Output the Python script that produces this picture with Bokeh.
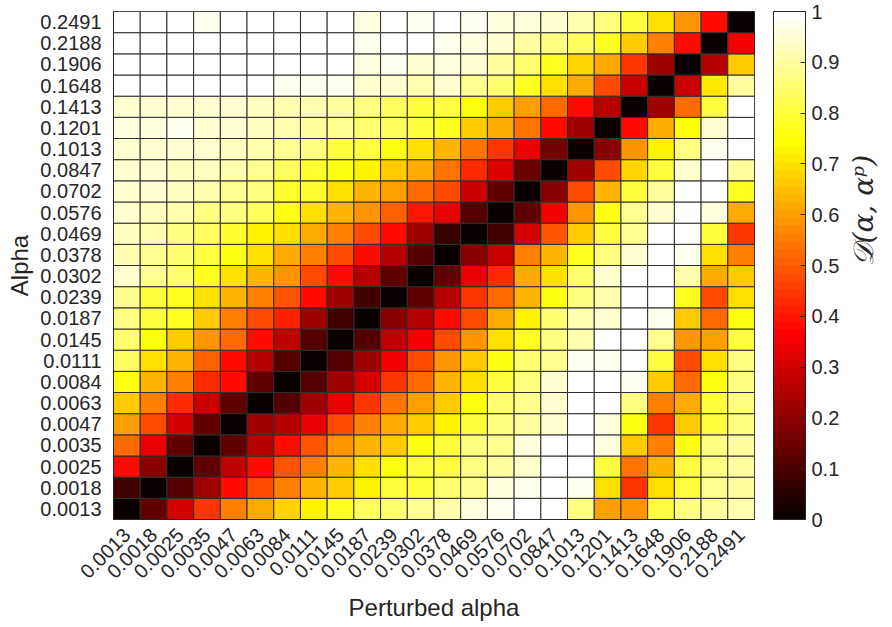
import numpy as np
from bokeh.plotting import figure
from bokeh.models import (ColumnDataSource, LinearColorMapper, ColorBar, FixedTicker,
                          BasicTickFormatter, FactorRange, CategoricalAxis)
from bokeh.embed import file_html
from bokeh.resources import INLINE

# ---------------- data ----------------
alpha_labels = ["0.0013", "0.0018", "0.0025", "0.0035", "0.0047", "0.0063", "0.0084", "0.0111",
                "0.0145", "0.0187", "0.0239", "0.0302", "0.0378", "0.0469", "0.0576", "0.0702",
                "0.0847", "0.1013", "0.1201", "0.1413", "0.1648", "0.1906", "0.2188", "0.2491"]

# one row per alpha (bottom to top); columns follow perturbed alpha (left to right)
d_0013 = [0.01, 0.14, 0.30, 0.44, 0.55, 0.62, 0.68, 0.73, 0.78, 0.83, 0.85, 0.89, 0.92, 0.96, 0.97, 1.00, 1.00, 0.86, 0.60, 0.58, 0.80, 0.87, 0.90, 0.92]
d_0018 = [0.09, 0.01, 0.11, 0.23, 0.375, 0.48, 0.55, 0.63, 0.67, 0.73, 0.80, 0.81, 0.85, 0.89, 0.96, 0.97, 1.00, 0.97, 0.69, 0.44, 0.69, 0.81, 0.89, 0.90]
d_0025 = [0.38, 0.19, 0.01, 0.13, 0.28, 0.39, 0.49, 0.56, 0.63, 0.69, 0.75, 0.80, 0.81, 0.87, 0.90, 0.95, 1.00, 1.00, 0.81, 0.54, 0.63, 0.80, 0.87, 0.90]
d_0035 = [0.52, 0.34, 0.14, 0.01, 0.13, 0.26, 0.375, 0.49, 0.58, 0.63, 0.67, 0.75, 0.81, 0.86, 0.89, 0.96, 1.00, 1.00, 0.96, 0.66, 0.55, 0.75, 0.87, 0.90]
d_0047 = [0.60, 0.47, 0.30, 0.14, 0.01, 0.23, 0.26, 0.34, 0.47, 0.55, 0.61, 0.67, 0.72, 0.80, 0.86, 0.90, 0.95, 1.00, 0.96, 0.75, 0.45, 0.66, 0.81, 0.86]
d_0063 = [0.66, 0.56, 0.43, 0.29, 0.13, 0.01, 0.12, 0.23, 0.33, 0.45, 0.54, 0.60, 0.66, 0.75, 0.85, 0.89, 0.95, 1.00, 1.00, 0.86, 0.56, 0.61, 0.80, 0.86]
d_0084 = [0.75, 0.63, 0.56, 0.43, 0.38, 0.14, 0.01, 0.12, 0.23, 0.30, 0.44, 0.53, 0.63, 0.70, 0.80, 0.87, 0.95, 1.00, 1.00, 0.98, 0.67, 0.53, 0.75, 0.86]
d_0111 = [0.83, 0.70, 0.63, 0.51, 0.39, 0.26, 0.12, 0.01, 0.11, 0.23, 0.35, 0.47, 0.58, 0.67, 0.75, 0.85, 0.89, 0.97, 0.98, 1.00, 0.81, 0.48, 0.69, 0.86]
d_0145 = [0.85, 0.75, 0.67, 0.59, 0.52, 0.375, 0.28, 0.12, 0.01, 0.12, 0.28, 0.35, 0.48, 0.59, 0.69, 0.77, 0.86, 0.92, 1.00, 1.00, 0.89, 0.58, 0.60, 0.81]
d_0187 = [0.87, 0.80, 0.77, 0.66, 0.56, 0.48, 0.42, 0.23, 0.09, 0.01, 0.19, 0.26, 0.375, 0.47, 0.61, 0.73, 0.85, 0.92, 0.95, 1.00, 0.98, 0.67, 0.53, 0.76]
d_0239 = [0.89, 0.81, 0.77, 0.69, 0.63, 0.55, 0.49, 0.38, 0.23, 0.08, 0.01, 0.13, 0.25, 0.44, 0.52, 0.64, 0.76, 0.86, 0.92, 1.00, 1.00, 0.78, 0.47, 0.69]
d_0302 = [0.94, 0.89, 0.85, 0.78, 0.70, 0.64, 0.58, 0.48, 0.375, 0.26, 0.14, 0.01, 0.14, 0.34, 0.43, 0.61, 0.70, 0.85, 0.94, 1.00, 1.00, 0.92, 0.61, 0.66]
d_0378 = [0.92, 0.89, 0.85, 0.81, 0.76, 0.69, 0.62, 0.55, 0.47, 0.38, 0.26, 0.12, 0.01, 0.19, 0.29, 0.55, 0.63, 0.77, 0.86, 0.95, 1.00, 0.97, 0.70, 0.55]
d_0469 = [0.93, 0.92, 0.86, 0.83, 0.79, 0.72, 0.70, 0.61, 0.55, 0.47, 0.375, 0.23, 0.07, 0.01, 0.08, 0.30, 0.49, 0.66, 0.81, 0.89, 1.00, 1.00, 0.81, 0.45]
d_0576 = [0.94, 0.93, 0.92, 0.87, 0.86, 0.83, 0.76, 0.70, 0.63, 0.58, 0.51, 0.40, 0.33, 0.12, 0.01, 0.14, 0.35, 0.58, 0.75, 0.88, 0.95, 1.00, 0.96, 0.61]
d_0702 = [0.95, 0.94, 0.93, 0.91, 0.89, 0.87, 0.79, 0.79, 0.70, 0.63, 0.60, 0.52, 0.47, 0.29, 0.14, 0.01, 0.19, 0.47, 0.63, 0.80, 0.90, 1.00, 1.00, 0.77]
d_0847 = [0.94, 0.94, 0.93, 0.93, 0.92, 0.89, 0.83, 0.79, 0.75, 0.72, 0.67, 0.61, 0.54, 0.43, 0.32, 0.15, 0.01, 0.23, 0.47, 0.68, 0.81, 0.94, 1.00, 0.90]
d_1013 = [0.95, 0.95, 0.94, 0.94, 0.93, 0.92, 0.89, 0.86, 0.81, 0.80, 0.75, 0.70, 0.63, 0.54, 0.44, 0.33, 0.16, 0.01, 0.20, 0.58, 0.72, 0.87, 0.98, 1.00]
d_1201 = [0.96, 0.96, 0.97, 0.95, 0.95, 0.93, 0.91, 0.90, 0.88, 0.85, 0.83, 0.81, 0.78, 0.67, 0.61, 0.54, 0.39, 0.22, 0.01, 0.375, 0.61, 0.74, 0.95, 1.00]
d_1413 = [0.95, 0.95, 0.94, 0.94, 0.94, 0.93, 0.92, 0.91, 0.90, 0.87, 0.84, 0.81, 0.80, 0.75, 0.67, 0.60, 0.52, 0.39, 0.25, 0.01, 0.23, 0.53, 0.80, 1.00]
d_1648 = [1.00, 1.00, 1.00, 1.00, 1.00, 1.00, 0.98, 0.98, 0.97, 0.95, 0.95, 0.92, 0.94, 0.89, 0.85, 0.78, 0.69, 0.61, 0.48, 0.29, 0.01, 0.29, 0.71, 0.90]
d_1906 = [1.00, 1.00, 1.00, 1.00, 1.00, 1.00, 1.00, 1.00, 1.00, 0.96, 0.98, 0.94, 0.96, 0.94, 0.90, 0.85, 0.77, 0.68, 0.61, 0.44, 0.23, 0.01, 0.25, 0.67]
d_2188 = [1.00, 1.00, 1.00, 1.00, 1.00, 1.00, 1.00, 1.00, 1.00, 0.97, 1.00, 1.00, 0.98, 0.96, 0.95, 0.90, 0.87, 0.83, 0.78, 0.67, 0.56, 0.39, 0.01, 0.35]
d_2491 = [1.00, 1.00, 1.00, 0.97, 1.00, 1.00, 1.00, 1.00, 1.00, 0.96, 1.00, 0.97, 1.00, 0.97, 0.96, 0.96, 0.95, 0.92, 0.87, 0.80, 0.69, 0.58, 0.39, 0.01]

rows = [d_0013, d_0018, d_0025, d_0035, d_0047, d_0063, d_0084, d_0111, d_0145, d_0187,
        d_0239, d_0302, d_0378, d_0469, d_0576, d_0702, d_0847, d_1013, d_1201, d_1413,
        d_1648, d_1906, d_2188, d_2491]

cbar_ticks = [0, 0.1, 0.2, 0.3, 0.4, 0.5, 0.6, 0.7, 0.8, 0.9, 1]
cbar_title = "𝒟(α, αᵖ)"

# ---------------- colormap (MATLAB-like "hot", 64 levels) ----------------
def hot_palette(m=64):
    n = (3 * m) // 8
    cols = []
    for i in range(1, m + 1):
        r = min(1.0, i / n)
        g = min(1.0, max(0.0, (i - n) / n))
        b = min(1.0, max(0.0, (i - 2 * n) / (m - 2 * n)))
        cols.append("#%02x%02x%02x" % (round(r * 255), round(g * 255), round(b * 255)))
    return cols

xs, ys, vs = [], [], []
for i, row in enumerate(rows):
    for j, v in enumerate(row):
        xs.append(alpha_labels[j])
        ys.append(alpha_labels[i])
        vs.append(v)
src = ColumnDataSource(dict(x=xs, y=ys, v=vs))

mapper = LinearColorMapper(palette=hot_palette(64), low=0, high=1)

FONT = "Liberation Sans"
TXT = "#262626"

p = figure(x_range=FactorRange(factors=alpha_labels), y_range=FactorRange(factors=alpha_labels),
           frame_width=641, frame_height=508,
           min_border_left=113, min_border_right=122, min_border_top=11, min_border_bottom=100,
           output_backend="svg", toolbar_location=None, tools="")

p.rect(x="x", y="y", width=1, height=1, source=src,
       fill_color={"field": "v", "transform": mapper},
       line_color="#2e2e2e", line_width=1)

p.grid.grid_line_color = None
p.outline_line_color = TXT
p.outline_line_width = 1
p.axis.axis_line_color = TXT
p.axis.major_tick_line_color = None
p.axis.minor_tick_line_color = None
p.axis.major_label_text_font = FONT
p.axis.major_label_text_font_size = "20px"
p.axis.major_label_text_color = TXT
p.axis.axis_label_text_font = FONT
p.axis.axis_label_text_font_size = "24px"
p.axis.axis_label_text_font_style = "normal"
p.axis.axis_label_text_color = TXT
p.xaxis.major_label_orientation = np.pi / 4
p.xaxis.axis_label = "Perturbed alpha"
p.yaxis.axis_label = "Alpha"
p.axis.major_label_standoff = 6
p.xaxis.axis_label_standoff = 6
p.yaxis.axis_label_standoff = 4

cb = ColorBar(color_mapper=mapper, ticker=FixedTicker(ticks=cbar_ticks),
              formatter=BasicTickFormatter(precision=1),
              major_label_overrides={0: "0", 1: "1"},
              width=32, padding=0, margin=0, location=(19, 0),
              major_label_text_font=FONT, major_label_text_font_size="20px",
              major_label_text_color=TXT,
              major_tick_line_color=TXT, major_tick_in=5, major_tick_out=0,
              bar_line_color=TXT, border_line_color=None, background_fill_color=None,
              label_standoff=6)
p.add_layout(cb, "right")

# colour-bar title as a label-only axis on the right (dummy categorical range)
p.extra_y_ranges = {"cbar_title": FactorRange(factors=["t"])}
tax = CategoricalAxis(y_range_name="cbar_title",
                      axis_label=cbar_title, axis_line_color=None,
                      major_tick_line_color=None, minor_tick_line_color=None,
                      major_label_text_font_size="1px", major_label_text_alpha=0,
                      major_label_standoff=0,
                      axis_label_text_font="DejaVu Serif", axis_label_text_font_style="italic",
                      axis_label_text_font_size="28px", axis_label_text_color=TXT,
                      axis_label_standoff=15)
try:
    tax.axis_label_orientation = np.pi / 2
except Exception:
    pass
p.add_layout(tax, "right")

open("out.html", "w").write(file_html(p, INLINE))
